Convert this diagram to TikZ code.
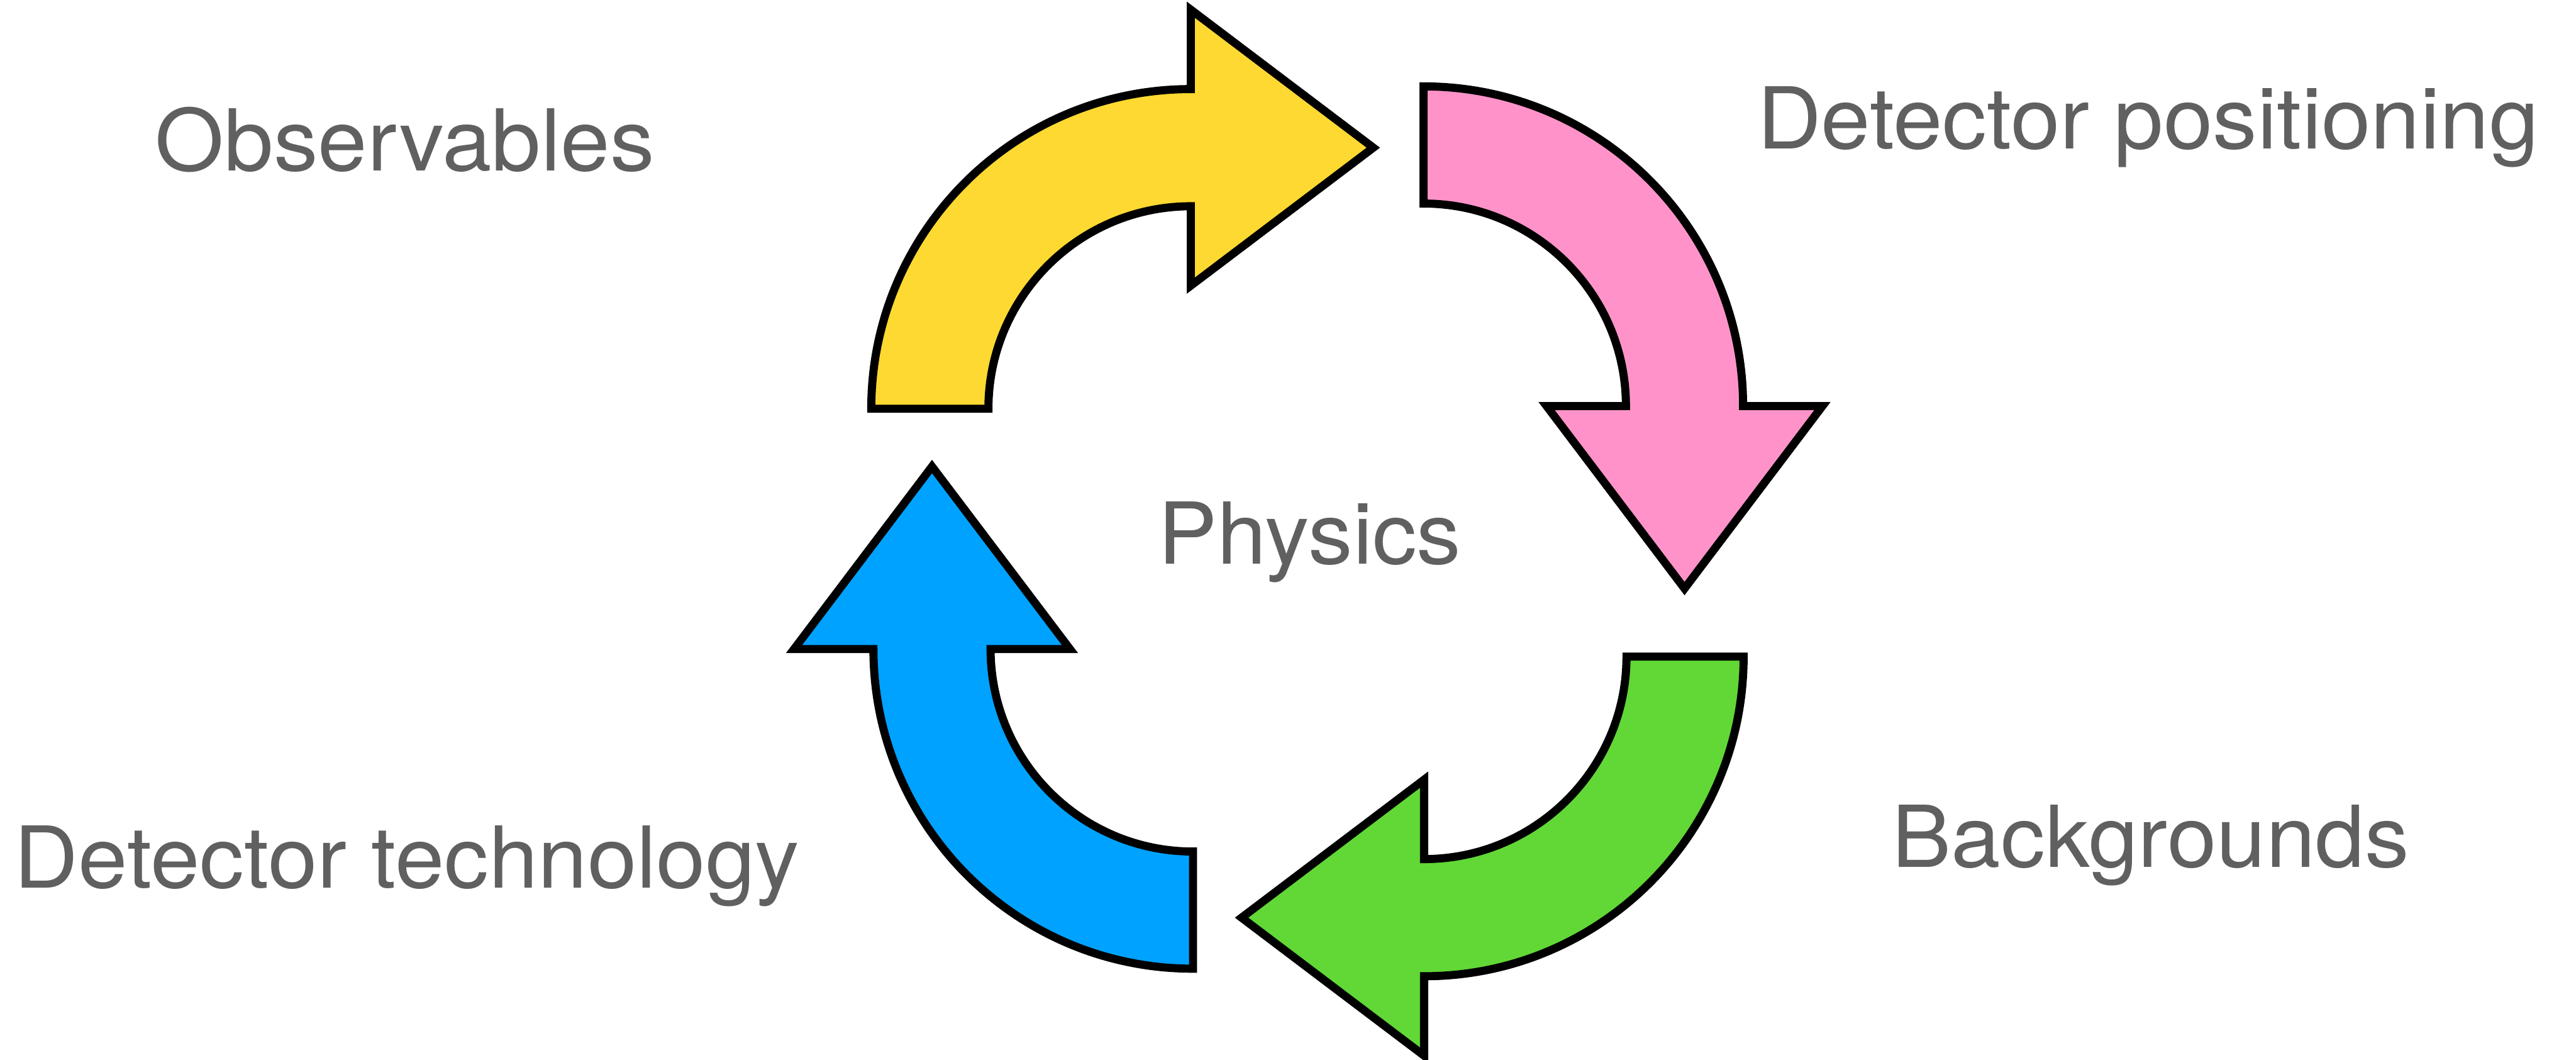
\documentclass[tikz,border=0pt]{standalone}
\usepackage{fontspec}
\setmainfont[FakeStretch=1.04]{TeX Gyre Heros}
\usepackage{tikz}
\definecolor{kyellow}{HTML}{FED931}
\definecolor{kpink}{HTML}{FF93C9}
\definecolor{kgreen}{HTML}{61D836}
\definecolor{kblue}{HTML}{00A2FF}
\definecolor{ktext}{HTML}{606060}

\begin{document}
\begin{tikzpicture}[
  arw/.style={draw=black, line width=0.15cm, line join=miter},
  lbl/.style={text=ktext, font=\fontsize{45}{54}\selectfont, inner sep=0pt, anchor=base}]
\useasboundingbox (0,0) rectangle (47.72,19.63);
% yellow: left -> top, head to the right
\begin{scope}[shift={(22.06,12.06)}]
\filldraw[arw, fill=kyellow] (180:5.92) arc[start angle=180, end angle=90, radius=5.92] -- (0,7.39) -- (3.38,4.835) -- (0,2.28) -- (0,3.75) arc[start angle=90, end angle=180, radius=3.75] -- cycle;
\end{scope}
% pink: top -> right, head down
\begin{scope}[shift={(26.37,12.11)}, rotate=-90]
\filldraw[arw, fill=kpink] (180:5.92) arc[start angle=180, end angle=90, radius=5.92] -- (0,7.39) -- (3.38,4.835) -- (0,2.28) -- (0,3.75) arc[start angle=90, end angle=180, radius=3.75] -- cycle;
\end{scope}
% green: right -> bottom, head to the left
\begin{scope}[shift={(26.38,7.47)}, rotate=-180]
\filldraw[arw, fill=kgreen] (180:5.92) arc[start angle=180, end angle=90, radius=5.92] -- (0,7.39) -- (3.38,4.835) -- (0,2.28) -- (0,3.75) arc[start angle=90, end angle=180, radius=3.75] -- cycle;
\end{scope}
% blue: bottom -> left, head up
\begin{scope}[shift={(22.10,7.61)}, rotate=-270]
\filldraw[arw, fill=kblue] (180:5.92) arc[start angle=180, end angle=90, radius=5.92] -- (0,7.39) -- (3.38,4.835) -- (0,2.28) -- (0,3.75) arc[start angle=90, end angle=180, radius=3.75] -- cycle;
\end{scope}
% labels
\node[lbl] (obs) at (7.50,16.47) {Observables};
\node[lbl] (pos) at (39.79,16.88) {Detector positioning};
\node[lbl] (phy) at (24.26,9.18) {Physics};
\node[lbl] (bkg) at (39.84,3.57) {Backgrounds};
\node[lbl] (tec) at (7.54,3.19) {Detector technology};
\end{tikzpicture}
\end{document}
